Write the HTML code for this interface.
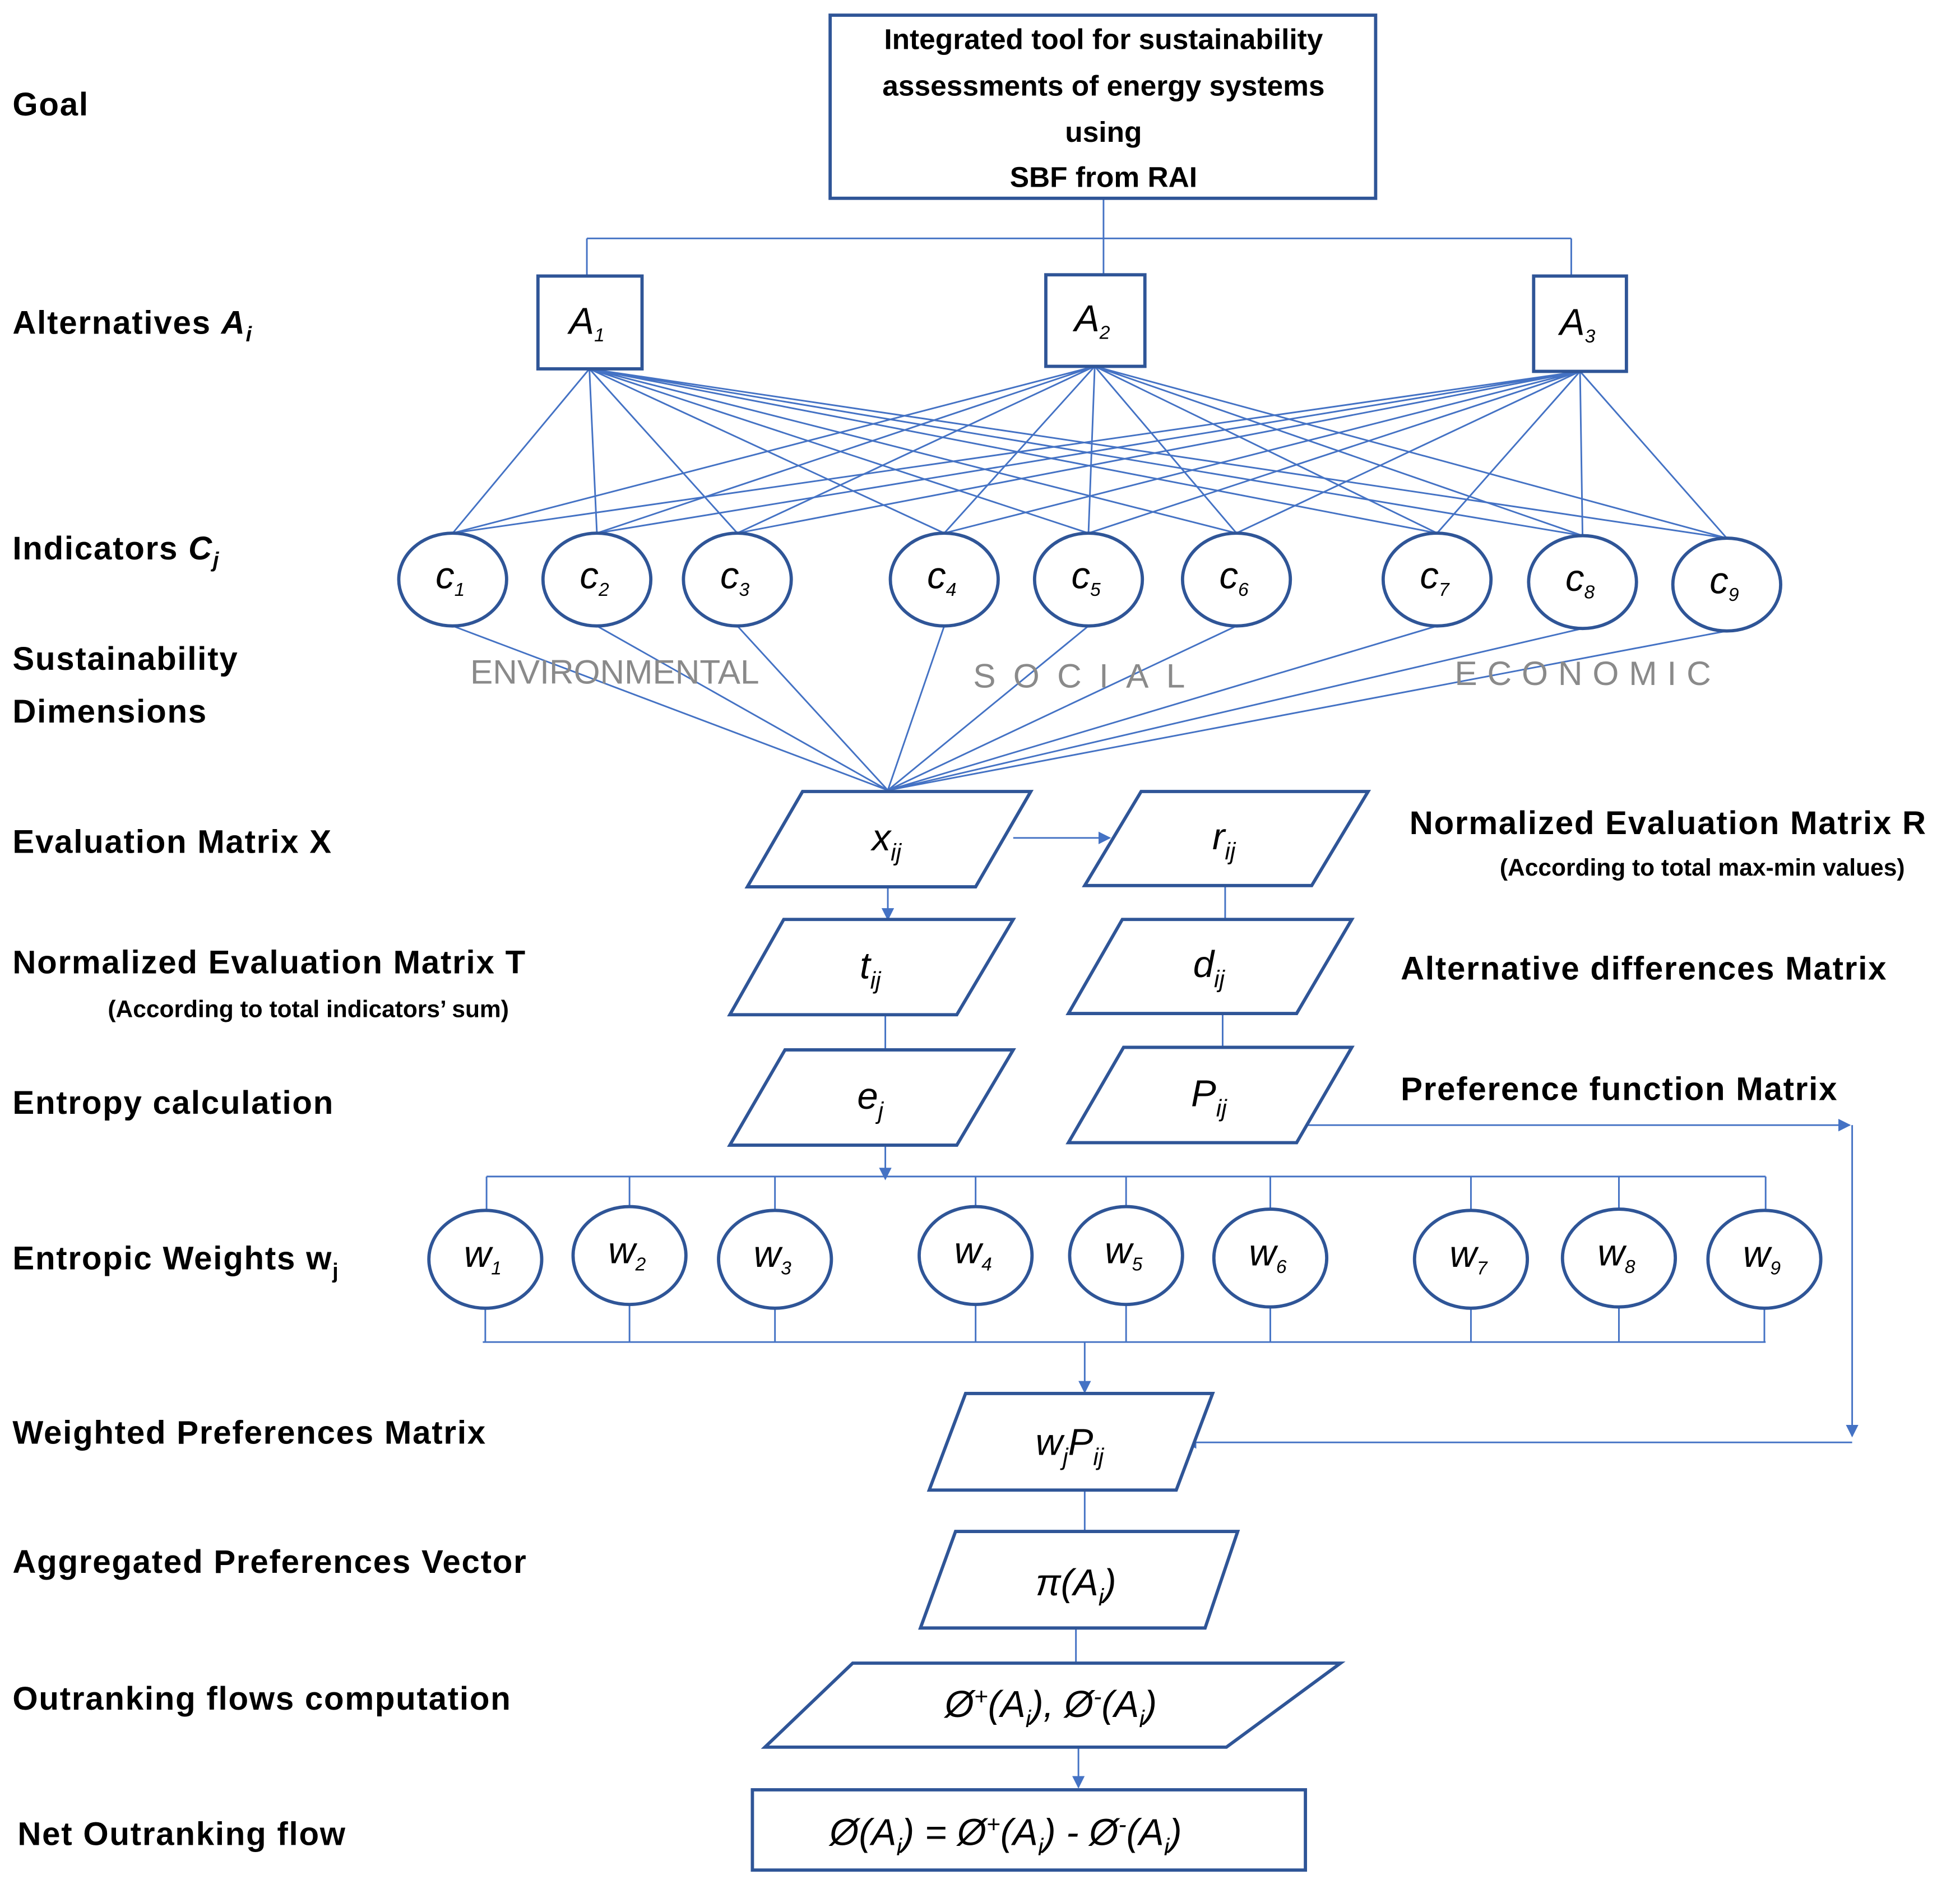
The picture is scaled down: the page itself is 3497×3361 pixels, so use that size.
<!DOCTYPE html>
<html><head><meta charset="utf-8"><style>
html,body{margin:0;padding:0;background:#fff}
svg{display:block}
.l{font-family:"Liberation Sans",sans-serif;font-weight:bold;font-size:26px;fill:#000;letter-spacing:0.8px}
.s{font-family:"Liberation Sans",sans-serif;font-weight:bold;font-size:19px;fill:#000}
.m{font-family:"Liberation Sans",sans-serif;font-style:italic;font-size:30px;fill:#000}
.d{font-family:"Liberation Sans",sans-serif;font-size:27px;fill:#8a8a8a}
</style></head><body>
<svg width="3497" height="3361" viewBox="0 0 1563 1502" xmlns="http://www.w3.org/2000/svg">
<defs><marker id="a" markerWidth="10" markerHeight="10" refX="9" refY="5" orient="auto" markerUnits="userSpaceOnUse"><path d="M0,0 L10,5 L0,10 z" fill="#4472C4"/></marker></defs>
<g stroke="#4472C4" stroke-width="1.3" fill="none">
<path d="M880,158V190M468,190H1253M468,190V220M880,190V219M1253,190V220"/>
<path d="M470,294L361,425M470,294L476,425M470,294L588,425M470,294L753,425M470,294L868,425M470,294L986,425M470,294L1146,425M470,294L1262,427M470,294L1377,429"/>
<path d="M873,292L361,425M873,292L476,425M873,292L588,425M873,292L753,425M873,292L868,425M873,292L986,425M873,292L1146,425M873,292L1262,427M873,292L1377,429"/>
<path d="M1260,296L361,425M1260,296L476,425M1260,296L588,425M1260,296L753,425M1260,296L868,425M1260,296L986,425M1260,296L1146,425M1260,296L1262,427M1260,296L1377,429"/>
<path d="M361,499L708,630M476,499L708,630M588,499L708,630M753,499L708,630M868,499L708,630M986,499L708,630M1146,499L708,630M1262,501L708,630M1377,503L708,630"/>
<path d="M808,668H885" marker-end="url(#a)"/>
<path d="M708,707V733" marker-end="url(#a)"/>
<path d="M706,809V837M977,706V733M975,808V835"/>
<path d="M706,913V940" marker-end="url(#a)"/>
<path d="M388,938H1408M388,938V965M502,938V962M618,938V965M778,938V962M898,938V962M1013,938V964M1173,938V965M1291,938V964M1408,938V965"/>
<path d="M385,1070H1408M387,1043V1070M502,1040V1070M618,1043V1070M778,1040V1070M898,1040V1070M1013,1042V1070M1173,1043V1070M1291,1042V1070M1407,1043V1070"/>
<path d="M865,1070V1110" marker-end="url(#a)"/>
<path d="M1040,897H1475" marker-end="url(#a)"/>
<path d="M1477,897V1145" marker-end="url(#a)"/>
<path d="M1477,1150H945" marker-end="url(#a)"/>
<path d="M865,1188V1221M858,1298V1326"/>
<path d="M860,1393V1425" marker-end="url(#a)"/>
</g>
<g stroke="#2F5597" stroke-width="2.6" fill="#fff">
<rect x="662" y="12" width="435" height="146"/>
<rect x="429" y="220" width="83" height="74"/>
<rect x="834" y="219" width="79" height="73"/>
<rect x="1223" y="220" width="74" height="76"/>
<ellipse cx="361" cy="462" rx="43" ry="37"/><ellipse cx="476" cy="462" rx="43" ry="37"/><ellipse cx="588" cy="462" rx="43" ry="37"/>
<ellipse cx="753" cy="462" rx="43" ry="37"/><ellipse cx="868" cy="462" rx="43" ry="37"/><ellipse cx="986" cy="462" rx="43" ry="37"/>
<ellipse cx="1146" cy="462" rx="43" ry="37"/><ellipse cx="1262" cy="464" rx="43" ry="37"/><ellipse cx="1377" cy="466" rx="43" ry="37"/>
<polygon points="640,631 822,631 778,707 596,707"/>
<polygon points="910,631 1091,631 1046,706 865,706"/>
<polygon points="625,733 808,733 763,809 582,809"/>
<polygon points="895,733 1078,733 1034,808 852,808"/>
<polygon points="626,837 808,837 763,913 582,913"/>
<polygon points="896,835 1078,835 1034,911 852,911"/>
<ellipse cx="387" cy="1004" rx="45" ry="39"/><ellipse cx="502" cy="1001" rx="45" ry="39"/><ellipse cx="618" cy="1004" rx="45" ry="39"/>
<ellipse cx="778" cy="1001" rx="45" ry="39"/><ellipse cx="898" cy="1001" rx="45" ry="39"/><ellipse cx="1013" cy="1003" rx="45" ry="39"/>
<ellipse cx="1173" cy="1004" rx="45" ry="39"/><ellipse cx="1291" cy="1003" rx="45" ry="39"/><ellipse cx="1407" cy="1004" rx="45" ry="39"/>
<polygon points="770,1111 967,1111 938,1188 741,1188"/>
<polygon points="762,1221 987,1221 961,1298 734,1298"/>
<polygon points="680,1326 1069,1326 978,1393 610,1393"/>
<rect x="600" y="1427" width="441" height="64"/>
</g>
<g class="l" text-anchor="middle" style="font-size:23px;letter-spacing:0">
<text x="880" y="39">Integrated tool for sustainability</text>
<text x="880" y="76">assessments of energy systems</text>
<text x="880" y="113">using</text>
<text x="880" y="149">SBF from RAI</text>
</g>
<g class="l">
<text x="10" y="92">Goal</text>
<text x="10" y="266">Alternatives <tspan font-style="italic">A<tspan font-size="17" dy="6">i</tspan></tspan></text>
<text x="10" y="446">Indicators <tspan font-style="italic">C<tspan font-size="17" dy="6">j</tspan></tspan></text>
<text x="10" y="534">Sustainability</text>
<text x="10" y="576">Dimensions</text>
<text x="10" y="680">Evaluation Matrix  X</text>
<text x="10" y="776">Normalized Evaluation Matrix   T</text>
<text x="10" y="888">Entropy calculation</text>
<text x="10" y="1012">Entropic Weights w<tspan font-size="17" dy="7">j</tspan></text>
<text x="10" y="1151">Weighted Preferences Matrix</text>
<text x="10" y="1254">Aggregated Preferences Vector</text>
<text x="10" y="1363">Outranking flows computation</text>
<text x="14" y="1471">Net Outranking flow</text>
<text x="1124" y="665">Normalized Evaluation Matrix R</text>
<text x="1117" y="781">Alternative differences Matrix</text>
<text x="1117" y="877">Preference function Matrix</text>
</g>
<text class="s" x="86" y="811">(According to total indicators’ sum)</text>
<text class="s" x="1196" y="698">(According to total max-min values)</text>
<text class="d" x="375" y="545">ENVIRONMENTAL</text>
<text class="d" x="776" y="548" letter-spacing="14">SOCIAL</text>
<text class="d" x="1160" y="546" letter-spacing="8">ECONOMIC</text>
<g class="m" text-anchor="middle" font-size="24">
<text x="468" y="266">A<tspan font-size="15" dy="6">1</tspan></text>
<text x="871" y="264">A<tspan font-size="15" dy="6">2</tspan></text>
<text x="1258" y="267">A<tspan font-size="15" dy="6">3</tspan></text>
<text x="359" y="469">c<tspan font-size="15" dy="6">1</tspan></text><text x="474" y="469">c<tspan font-size="15" dy="6">2</tspan></text><text x="586" y="469">c<tspan font-size="15" dy="6">3</tspan></text>
<text x="751" y="469">c<tspan font-size="15" dy="6">4</tspan></text><text x="866" y="469">c<tspan font-size="15" dy="6">5</tspan></text><text x="984" y="469">c<tspan font-size="15" dy="6">6</tspan></text>
<text x="1144" y="469">c<tspan font-size="15" dy="6">7</tspan></text><text x="1260" y="471">c<tspan font-size="15" dy="6">8</tspan></text><text x="1375" y="473">c<tspan font-size="15" dy="6">9</tspan></text>
<text x="385" y="1010">w<tspan font-size="15" dy="6">1</tspan></text><text x="500" y="1007">w<tspan font-size="15" dy="6">2</tspan></text><text x="616" y="1010">w<tspan font-size="15" dy="6">3</tspan></text>
<text x="776" y="1007">w<tspan font-size="15" dy="6">4</tspan></text><text x="896" y="1007">w<tspan font-size="15" dy="6">5</tspan></text><text x="1011" y="1009">w<tspan font-size="15" dy="6">6</tspan></text>
<text x="1171" y="1010">w<tspan font-size="15" dy="6">7</tspan></text><text x="1289" y="1009">w<tspan font-size="15" dy="6">8</tspan></text><text x="1405" y="1010">w<tspan font-size="15" dy="6">9</tspan></text>
</g>
<g class="m" text-anchor="middle">
<text x="707" y="678">x<tspan font-size="19" dy="8">ij</tspan></text>
<text x="976" y="677">r<tspan font-size="19" dy="8">ij</tspan></text>
<text x="694" y="780">t<tspan font-size="19" dy="8">ij</tspan></text>
<text x="964" y="779">d<tspan font-size="19" dy="8">ij</tspan></text>
<text x="694" y="884">e<tspan font-size="19" dy="8">j</tspan></text>
<text x="964" y="882">P<tspan font-size="19" dy="8">ij</tspan></text>
<text x="853" y="1160">w<tspan font-size="19" dy="8">j</tspan><tspan dy="-8">P</tspan><tspan font-size="19" dy="8">ij</tspan></text>
<text x="858" y="1272">π(A<tspan font-size="19" dy="8">i</tspan><tspan dy="-8">)</tspan></text>
<text x="838" y="1369">Ø<tspan font-size="19" dy="-10">+</tspan><tspan dy="10">(A</tspan><tspan font-size="19" dy="8">i</tspan><tspan dy="-8">),  Ø</tspan><tspan font-size="19" dy="-10">-</tspan><tspan dy="10">(A</tspan><tspan font-size="19" dy="8">i</tspan><tspan dy="-8">)</tspan></text>
<text x="802" y="1471">Ø(A<tspan font-size="19" dy="8">i</tspan><tspan dy="-8">) = Ø</tspan><tspan font-size="19" dy="-10">+</tspan><tspan dy="10">(A</tspan><tspan font-size="19" dy="8">i</tspan><tspan dy="-8">) - Ø</tspan><tspan font-size="19" dy="-10">-</tspan><tspan dy="10">(A</tspan><tspan font-size="19" dy="8">i</tspan><tspan dy="-8">)</tspan></text>
</g>
</svg>
</body></html>
